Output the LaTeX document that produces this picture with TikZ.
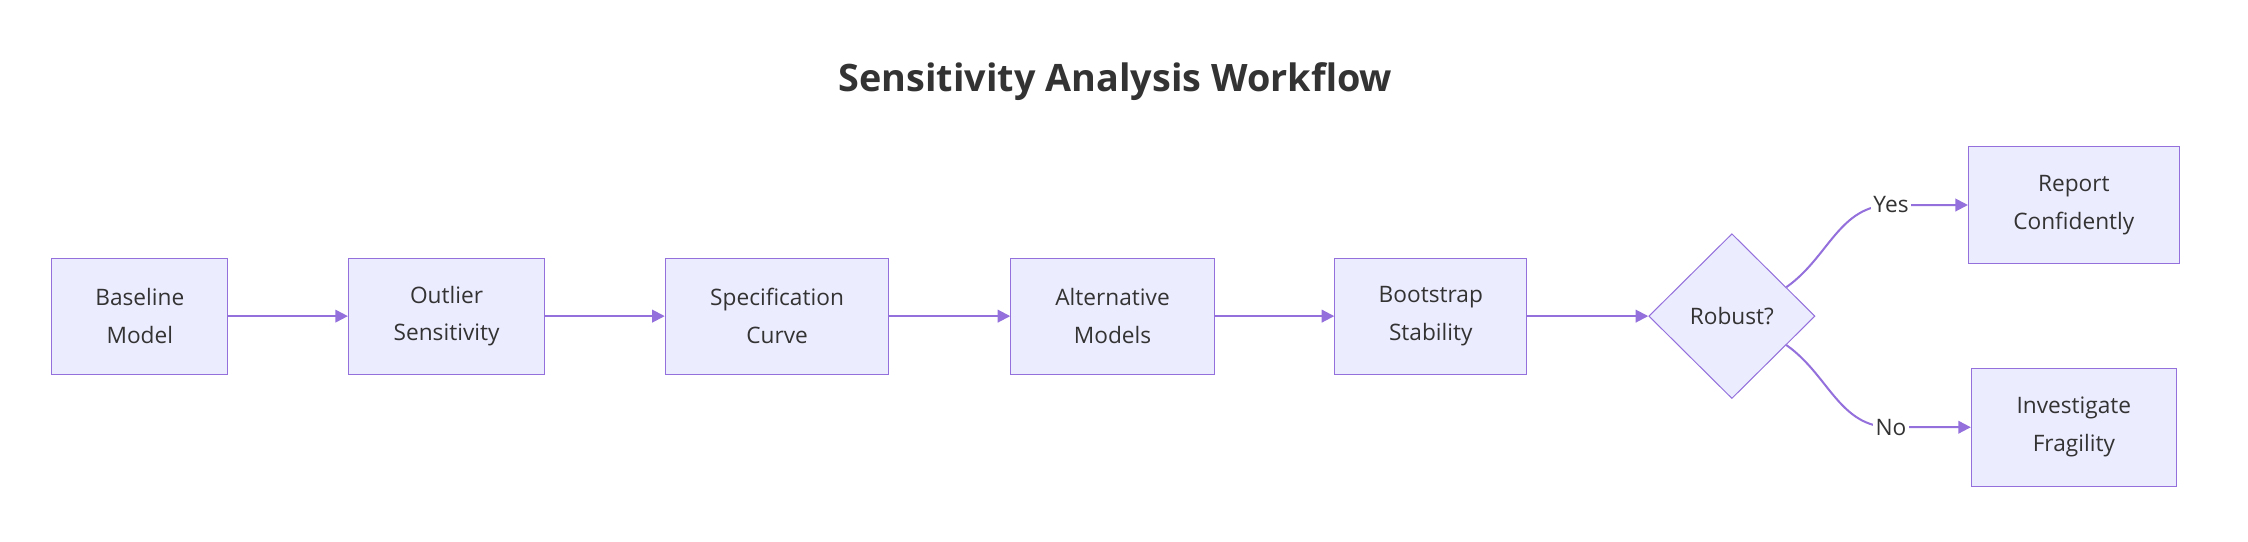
\documentclass[tikz,border=0pt]{standalone}
\usepackage{fontspec}
\setmainfont{Open Sans}
\usetikzlibrary{shapes.geometric,arrows.meta}
\definecolor{boxfill}{HTML}{ECECFF}
\definecolor{boxline}{HTML}{9370DB}
\definecolor{ink}{HTML}{333333}
\begin{document}
\begin{tikzpicture}[x=0.02cm,y=-0.02cm,
    stage/.style = {draw=boxline,fill=boxfill,text=ink,align=center,
                   font=\fontsize{9}{15}\selectfont,inner sep=0pt,minimum height=1.62cm},
    arrow/.style = {draw=boxline,thick,-{Triangle[length=5pt,width=5pt]}},
    tag/.style = {fill=white,text=ink,inner sep=1pt,font=\fontsize{9}{11}\selectfont}]
                \useasboundingbox (0,0) rectangle (1568,378);
                \node[text=ink,font=\bfseries\fontsize{15}{18}\selectfont] (title) at (778,57) {Sensitivity Analysis Workflow};

                \node[stage,minimum width=2.46cm] (base) at (97.5,220.5) {Baseline\\Model};
                \node[stage,minimum width=2.74cm] (outl) at (311.5,220.5) {Outlier\\Sensitivity};
                \node[stage,minimum width=3.12cm] (spec) at (542,220.5) {Specification\\Curve};
                \node[stage,minimum width=2.84cm] (alt) at (776,220.5) {Alternative\\Models};
                \node[stage,minimum width=2.68cm] (boot) at (998,220.5) {Bootstrap\\Stability};
                \node[draw=boxline,fill=boxfill,text=ink,diamond,inner sep=0pt,
                      minimum width=2.32cm,minimum height=2.3cm,
                      font=\fontsize{9}{11}\selectfont] (rob) at (1208,220.5) {Robust?};
                \node[stage,minimum width=2.94cm,minimum height=1.64cm] (rep) at (1446.5,143) {Report\\Confidently};
                \node[stage,minimum width=2.86cm,minimum height=1.64cm] (inv) at (1446.5,298) {Investigate\\Fragility};

                \draw[arrow] (base) -- (outl);
                \draw[arrow] (outl) -- (spec);
                \draw[arrow] (spec) -- (alt);
                \draw[arrow] (alt) -- (boot);
                \draw[arrow] (boot) -- (rob);

                \coordinate (yes) at (1319,143);
                \coordinate (no) at (1319,298);
                \draw[arrow] (rob.28) to[out=35,in=180] (yes) -- (rep);
                \draw[arrow] (rob.-28) to[out=-35,in=180] (no) -- (inv);
                \node[tag] (yeslbl) at (yes) {Yes};
                \node[tag] (nolbl) at (no) {No};
\end{tikzpicture}
\end{document}
